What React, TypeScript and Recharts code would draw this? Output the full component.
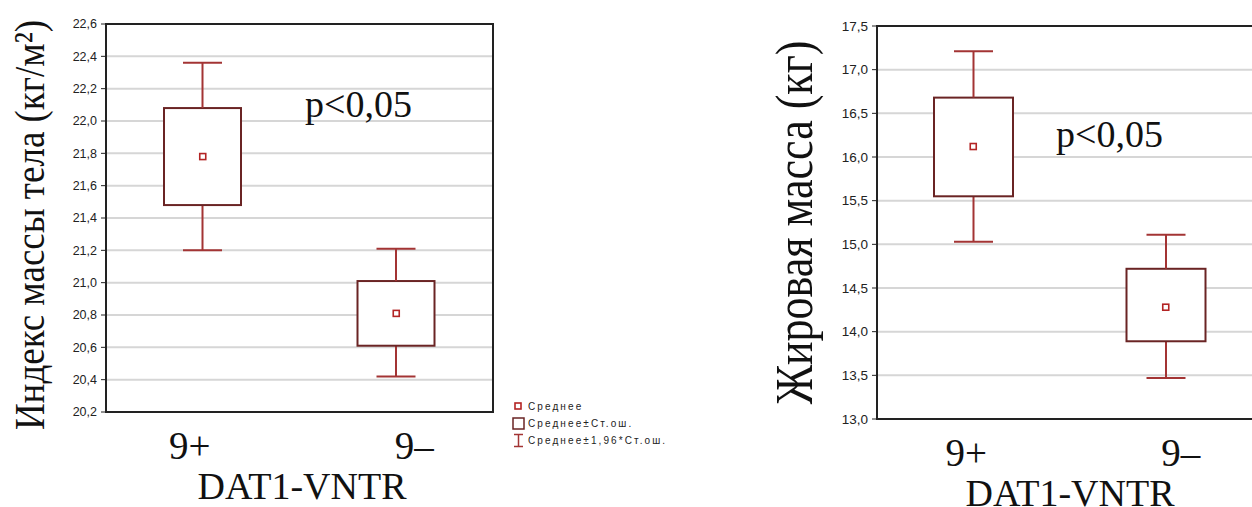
import React from 'react';
import { ComposedChart, Bar, Line, XAxis, YAxis, CartesianGrid, ReferenceArea, Legend } from 'recharts';

// ---- data ----
const groups = ['9+', '9–'];

const bmiMean = [21.78, 20.81];
const bmiSeLow = [21.48, 20.61];
const bmiSeHigh = [22.08, 21.01];
const bmiCiLow = [21.2, 20.42];
const bmiCiHigh = [22.36, 21.21];
const bmiTicks = [20.2, 20.4, 20.6, 20.8, 21.0, 21.2, 21.4, 21.6, 21.8, 22.0, 22.2, 22.4, 22.6];

const fatMean = [16.12, 14.28];
const fatSeLow = [15.55, 13.89];
const fatSeHigh = [16.68, 14.72];
const fatCiLow = [15.03, 13.47];
const fatCiHigh = [17.21, 15.11];
const fatTicks = [13.0, 13.5, 14.0, 14.5, 15.0, 15.5, 16.0, 16.5, 17.0, 17.5];

const legendLabels = ['Среднее', 'Среднее±Ст.ош.', 'Среднее±1,96*Ст.ош.'];
const xTitle = 'DAT1-VNTR';
const bmiTitle = 'Индекс массы тела (кг/м²)';
const fatTitle = 'Жировая масса (кг)';
const pText = 'p<0,05';

// ---- styles ----
const BOX = '#6a2424';
const WHISK = '#a33434';
const MEAN = '#b32424';
const SERIF = "'Liberation Serif', 'Times New Roman', serif";
const SANS = "'Liberation Sans', Arial, sans-serif";
const CH = 516;

const build = (mean: number[], seL: number[], seH: number[], ciL: number[], ciH: number[]) =>
  groups.map((g, i) => ({
    group: g,
    base: ciL[i],
    lowW: seL[i] - ciL[i],
    box: seH[i] - seL[i],
    upW: ciH[i] - seH[i],
    mean: mean[i],
  }));

const bmiData = build(bmiMean, bmiSeLow, bmiSeHigh, bmiCiLow, bmiCiHigh);
const fatData = build(fatMean, fatSeLow, fatSeHigh, fatCiLow, fatCiHigh);

const fmt = (v: number) => v.toFixed(1).replace('.', ',');

const EmptyShape = () => <g />;
const BoxShape = (props: any) => {
  const { x, y, width, height } = props;
  return <rect x={x} y={y} width={width} height={height} fill="#fff" stroke={BOX} strokeWidth={2} />;
};
const makeLower = (cap: number) => (props: any) => {
  const { x, y, width, height } = props;
  const cx = x + width / 2;
  const b = y + height;
  return (
    <g>
      <line x1={cx} x2={cx} y1={y} y2={b} stroke={WHISK} strokeWidth={2} />
      <line x1={cx - cap / 2} x2={cx + cap / 2} y1={b} y2={b} stroke={WHISK} strokeWidth={2} />
    </g>
  );
};
const makeUpper = (cap: number) => (props: any) => {
  const { x, y, width, height } = props;
  const cx = x + width / 2;
  return (
    <g>
      <line x1={cx} x2={cx} y1={y} y2={y + height} stroke={WHISK} strokeWidth={2} />
      <line x1={cx - cap / 2} x2={cx + cap / 2} y1={y} y2={y} stroke={WHISK} strokeWidth={2} />
    </g>
  );
};
const MeanDot = (props: any) => {
  const { cx, cy, index } = props;
  if (cx == null || cy == null) return <g key={index} />;
  return <rect key={index} x={cx - 3} y={cy - 3} width={6} height={6} fill="#fff" stroke={MEAN} strokeWidth={1.6} />;
};

const makeXTick = (dxs: number[], dy: number) => (props: any) => {
  const { x, y, payload, index } = props;
  return (
    <text x={x + dxs[index]} y={y + dy} textAnchor="middle" fontFamily={SERIF} fontSize={39} fill="#111">
      {payload.value}
    </text>
  );
};

const XTitle = (props: any) => {
  const { viewBox, dy, cx } = props;
  return (
    <text x={viewBox.x + cx} y={viewBox.y + dy} textAnchor="middle" fontFamily={SERIF} fontSize={38} fill="#111">
      {xTitle}
    </text>
  );
};

const YTitle = (props: any) => {
  const { viewBox, text, bx, dy, size, k } = props;
  const cx = viewBox.x + bx;
  const cy = viewBox.y + viewBox.height / 2 + dy;
  return (
    <text
      transform={`translate(${cx},${cy}) rotate(-90) scale(1,${k})`}
      textAnchor="middle"
      fontFamily={SERIF}
      fontSize={size}
      fill="#111"
    >
      {text}
    </text>
  );
};

const LegendContent = () => (
  <div style={{ fontFamily: SANS, fontSize: 10, letterSpacing: 2.1, color: '#222', lineHeight: '17px' }}>
    <div style={{ display: 'flex', alignItems: 'center', height: 17 }}>
      <svg width={16} height={15}>
        <rect x={3} y={4} width={6} height={6} fill="#fff" stroke={MEAN} strokeWidth={1.6} />
      </svg>
      <span>{legendLabels[0]}</span>
    </div>
    <div style={{ display: 'flex', alignItems: 'center', height: 17 }}>
      <svg width={16} height={15}>
        <rect x={1} y={2} width={11} height={11} fill="#fff" stroke={BOX} strokeWidth={1.5} />
      </svg>
      <span>{legendLabels[1]}</span>
    </div>
    <div style={{ display: 'flex', alignItems: 'center', height: 17 }}>
      <svg width={16} height={15}>
        <line x1={2} x2={11} y1={1.5} y2={1.5} stroke={WHISK} strokeWidth={1.5} />
        <line x1={6.5} x2={6.5} y1={1.5} y2={13.5} stroke={WHISK} strokeWidth={1.5} />
        <line x1={2} x2={11} y1={13.5} y2={13.5} stroke={WHISK} strokeWidth={1.5} />
      </svg>
      <span>{legendLabels[2]}</span>
    </div>
  </div>
);

type PanelProps = {
  data: any[];
  ticks: number[];
  width: number;
  margin: any;
  yWidth: number;
  barSize: number;
  cap: number;
  xDx: number[];
  xPad: any;
  titleCx: number;
  tickSizePx: number;
  title: any;
  legend?: boolean;
};

const Panel = ({ data, ticks, width, margin, yWidth, barSize, cap, xDx, xPad, titleCx, tickSizePx, title, legend }: PanelProps) => {
  const lo = ticks[0];
  const hi = ticks[ticks.length - 1];
  return (
    <ComposedChart width={width} height={CH} data={data} margin={margin}>
      <CartesianGrid vertical={false} stroke="#d6d6d6" strokeWidth={2} />
      <XAxis
        dataKey="group"
        height={60}
        padding={xPad}
        axisLine={false}
        tickLine={false}
        tickSize={0}
        tickMargin={0}
        tick={makeXTick(xDx, 47)}
        label={<XTitle dy={87} cx={titleCx} />}
      />
      <YAxis
        width={yWidth}
        domain={[lo, hi]}
        ticks={ticks}
        allowDataOverflow
        tickFormatter={fmt}
        tickSize={5}
        tickMargin={4}
        axisLine={{ stroke: '#222', strokeWidth: 2 }}
        tickLine={{ stroke: '#222' }}
        tick={{ fontSize: tickSizePx, fontFamily: SANS, fill: '#222' }}
        label={title}
      />
      <ReferenceArea y1={lo} y2={hi} fill="none" stroke="#222" strokeWidth={2} />
      <Bar dataKey="base" stackId="s" barSize={barSize} shape={EmptyShape} isAnimationActive={false} />
      <Bar dataKey="lowW" stackId="s" barSize={barSize} shape={makeLower(cap)} isAnimationActive={false} />
      <Bar dataKey="box" stackId="s" barSize={barSize} shape={BoxShape} isAnimationActive={false} />
      <Bar dataKey="upW" stackId="s" barSize={barSize} shape={makeUpper(cap)} isAnimationActive={false} />
      <Line dataKey="mean" stroke="none" dot={MeanDot} activeDot={false} isAnimationActive={false} />
      {legend && (
        <Legend
          layout="vertical"
          align="center"
          verticalAlign="middle"
          content={LegendContent}
          wrapperStyle={{ position: 'absolute', left: 512, top: 398, width: 200, height: 52 }}
        />
      )}
    </ComposedChart>
  );
};

export default function App() {
  return (
    <div style={{ position: 'absolute', left: 0, top: 0, width: 1252, height: 507, overflow: 'hidden', background: '#fff' }}>
      <div style={{ position: 'absolute', left: 0, top: 0 }}>
        <Panel
          data={bmiData}
          ticks={bmiTicks}
          width={700}
          margin={{ top: 24, right: 207, bottom: 35 + (CH - 507), left: 0 }}
          yWidth={106}
          barSize={77}
          cap={39}
          xDx={[-13, 18]}
          xPad={{ left: 0, right: 0 }}
          titleCx={196}
          tickSizePx={12.5}
          title={<YTitle text={bmiTitle} bx={44} dy={7} size={37} k={1.15} />}
          legend
        />
      </div>
      <div style={{ position: 'absolute', left: 750, top: 0 }}>
        <Panel
          data={fatData}
          ticks={fatTicks}
          width={502}
          margin={{ top: 26, right: 0, bottom: 28 + (CH - 507), left: 0 }}
          yWidth={127}
          barSize={79}
          cap={39}
          xDx={[-7, 15]}
          xPad={{ left: 0, right: -10 }}
          titleCx={193}
          tickSizePx={13.5}
          title={<YTitle text={fatTitle} bx={62} dy={0} size={44} k={1.2} />}
        />
      </div>
      <svg width={1252} height={507} style={{ position: 'absolute', left: 0, top: 0, pointerEvents: 'none' }}>
        <text x={305} y={117} fontFamily={SERIF} fontSize={38} fill="#111">{pText}</text>
        <text x={1056} y={147} fontFamily={SERIF} fontSize={38} fill="#111">{pText}</text>
      </svg>
    </div>
  );
}
